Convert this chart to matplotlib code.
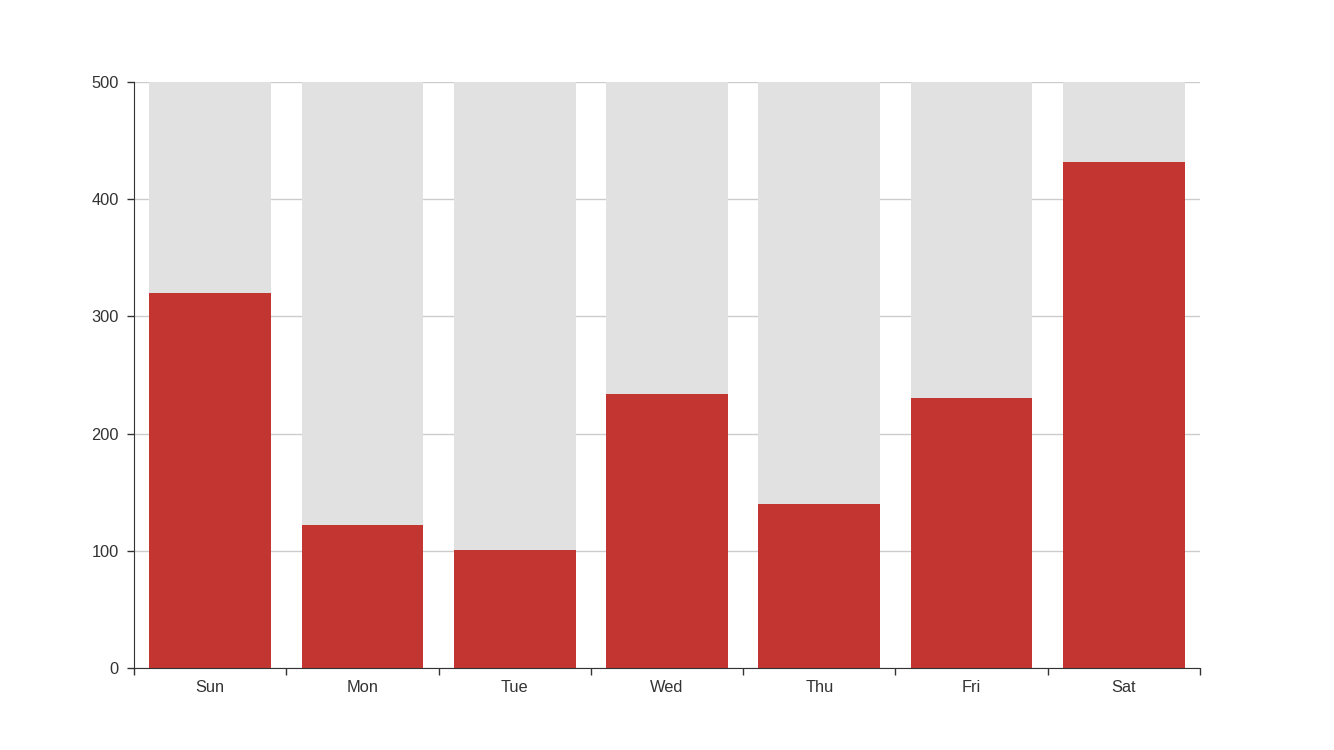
import matplotlib
matplotlib.use("Agg")
import matplotlib.pyplot as plt

categories = ["Sun", "Mon", "Tue", "Wed", "Thu", "Fri", "Sat"]
values = [320, 122, 101, 234, 140, 230, 432]
y_max = 500
y_ticks = [0, 100, 200, 300, 400, 500]

plt.rcParams['font.family'] = ['Liberation Sans', 'DejaVu Sans']

fig = plt.figure(figsize=(13.34, 7.5), dpi=100)
W, H = 1334, 750
left, right, top, bottom = 134, 1200, 82, 668
ax = fig.add_axes([left / W, 1 - bottom / H, (right - left) / W, (bottom - top) / H])

x = list(range(len(categories)))
bw = 0.8
ax.bar(x, [y_max] * len(x), width=bw, color="#e1e1e1", zorder=2)
ax.bar(x, values, width=bw, color="#c23531", zorder=3)

ax.set_xlim(-0.5, len(categories) - 0.5)
ax.set_ylim(0, y_max)
ax.set_yticks(y_ticks)
ax.set_yticklabels([str(t) for t in y_ticks])
ax.yaxis.grid(True, color="#cccccc", linewidth=1, zorder=1)
ax.set_axisbelow(True)

# x ticks at boundaries, labels at centers
ax.set_xticks([i - 0.5 for i in range(len(categories) + 1)])
ax.set_xticklabels([])
ax.set_xticks(x, minor=True)
ax.set_xticklabels(categories, minor=True)
ax.tick_params(axis="x", which="minor", length=0, pad=9, labelsize=11.8, labelcolor="#333333")
ax.tick_params(axis="x", which="major", length=5, width=1, color="#333333")
ax.tick_params(axis="y", length=5, width=1, color="#333333", labelsize=11.8, labelcolor="#333333", pad=6)

for s in ["top", "right"]:
    ax.spines[s].set_visible(False)
ax.spines["left"].set_color("#333333")
ax.spines["bottom"].set_color("#333333")
ax.spines["left"].set_zorder(4)
ax.spines["bottom"].set_zorder(4)

fig.savefig("out.png", dpi=100, facecolor="white")
